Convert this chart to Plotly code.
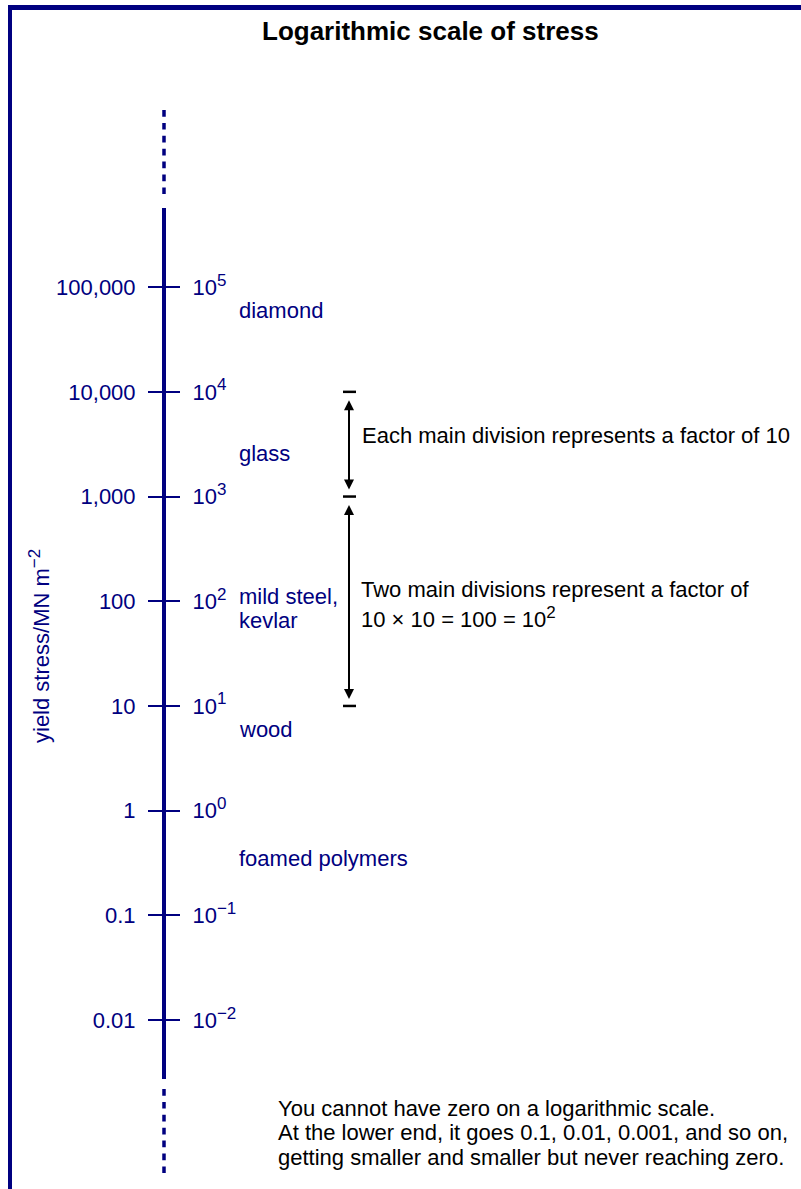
import numpy as np
import plotly.graph_objects as go

W, H = 801, 1189
FONT = "Liberation Sans, Arial, Helvetica, sans-serif"
NAVY = "#000080"

# ---------------- data ----------------
tick_values = [1e5, 1e4, 1e3, 1e2, 1e1, 1e0, 1e-1, 1e-2]
linear_labels = ["100,000", "10,000", "1,000", "100", "10", "1", "0.1", "0.01"]
power_labels = ["10<sup>5</sup>", "10<sup>4</sup>", "10<sup>3</sup>", "10<sup>2</sup>",
                "10<sup>1</sup>", "10<sup>0</sup>", "10<sup>\u22121</sup>", "10<sup>\u22122</sup>"]
materials = ["diamond", "glass", "mild steel,<br>kevlar", "wood", "foamed polymers"]
material_stress = [60000, 2600, 85, 6, 0.35]
bracket_values = [1e4, 1e3, 1e1]
arrow_from = [1e4, 1e3]
arrow_to = [1e3, 1e1]
arrow_texts = [["Each main division represents a factor of 10"],
               ["Two main divisions represent a factor of",
                "10 \u00d7 10 = 100 = 10<sup>2</sup>"]]
note_lines = ["You cannot have zero on a logarithmic scale.",
              "At the lower end, it goes 0.1, 0.01, 0.001, and so on,",
              "getting smaller and smaller but never reaching zero."]
axis_title = "yield stress/MN m<sup>\u22122</sup>"
title = "Logarithmic scale of stress"

# ---------------- layout constants ----------------
AXIS_X = 164
LOG_RANGE = [-2.563, 5.756]
AX_TOP_PX, AX_BOT_PX = 208, 1079


def big_sup(s, size=17):
    return s.replace("<sup>", "<sup><span style='font-size:%dpx'>" % size).replace(
        "</sup>", "</span></sup>")


def py(p):
    return 1 - p / H


fig = go.Figure()

# invisible traces to bind both y axes
fig.add_trace(go.Scatter(x=[AXIS_X], y=[tick_values[0]], mode="markers",
                         marker=dict(opacity=0), hoverinfo="skip", showlegend=False))
fig.add_trace(go.Scatter(x=[AXIS_X], y=[tick_values[0]], mode="markers", yaxis="y2",
                         marker=dict(opacity=0), hoverinfo="skip", showlegend=False))

# bracket bars
bx, by = [], []
for v in bracket_values:
    bx += [343, 356, None]
    by += [v, v, None]
fig.add_trace(go.Scatter(x=bx, y=by, mode="lines", line=dict(color="black", width=2.5),
                         hoverinfo="skip", showlegend=False))

annotations = []
# materials
for name, v in zip(materials, material_stress):
    lines = name.split("<br>")
    n = len(lines)
    for i, ln in enumerate(lines):
        annotations.append(dict(x=237, y=np.log10(v), xref="x", yref="y", text=ln,
                                showarrow=False, xanchor="left", yanchor="middle",
                                yshift=(n - 1) / 2 * 24 - i * 24,
                                font=dict(size=22, color=NAVY, family=FONT)))
# arrows
for a, b in zip(arrow_from, arrow_to):
    annotations.append(dict(x=349, y=np.log10(b), ax=349, ay=np.log10(a),
                            xref="x", yref="y", axref="x", ayref="y", text="",
                            showarrow=True, arrowside="end+start", arrowhead=2,
                            startarrowhead=2, arrowsize=1, startarrowsize=1,
                            arrowwidth=2, arrowcolor="black", standoff=7, startstandoff=7))
# arrow texts
annotations.append(dict(x=360, y=py(435), xref="x", yref="paper", text=arrow_texts[0][0],
                        showarrow=False, xanchor="left", yanchor="middle",
                        font=dict(size=22, color="black", family=FONT)))
for i, t in enumerate(arrow_texts[1]):
    annotations.append(dict(x=359, y=py(589 + 28 * i), xref="x", yref="paper",
                            text=big_sup(t), showarrow=False, xanchor="left",
                            yanchor="middle",
                            font=dict(size=22, color="black", family=FONT)))
# note lines
for i, t in enumerate(note_lines):
    annotations.append(dict(x=276, y=py(1108 + 24.5 * i), xref="x", yref="paper", text=t,
                            showarrow=False, xanchor="left", yanchor="middle",
                            font=dict(size=22, color="black", family=FONT)))
# axis title
annotations.append(dict(x=39, y=py(646), xref="x", yref="paper", text=big_sup(axis_title),
                        showarrow=False, textangle=-90, xanchor="center", yanchor="middle",
                        font=dict(size=22, color=NAVY, family=FONT)))
# title
annotations.append(dict(x=430, y=py(31), xref="x", yref="paper", text="<b>" + title + "</b>",
                        showarrow=False, xanchor="center", yanchor="middle",
                        font=dict(size=26, color="black", family=FONT)))

shapes = [
    dict(type="line", xref="x", yref="paper", x0=10, x1=10, y0=py(5), y1=0,
         line=dict(color=NAVY, width=4)),
    dict(type="line", xref="x", yref="paper", x0=8, x1=W, y0=py(7.5), y1=py(7.5),
         line=dict(color=NAVY, width=5)),
    dict(type="line", xref="x", yref="paper", x0=AXIS_X, x1=AXIS_X, y0=py(110), y1=py(194),
         line=dict(color=NAVY, width=3.5, dash="6.7px,6.2px")),
    dict(type="line", xref="x", yref="paper", x0=AXIS_X, x1=AXIS_X, y0=py(1089), y1=py(1173),
         line=dict(color=NAVY, width=3.5, dash="6.7px,6.2px")),
]

yax_common = dict(type="log", range=LOG_RANGE, domain=[py(AX_BOT_PX), py(AX_TOP_PX)],
                  anchor="free", position=AXIS_X / W, showline=True, linecolor=NAVY,
                  linewidth=4, ticks="outside", ticklen=14, tickwidth=2, tickcolor=NAVY,
                  tickvals=tick_values, showgrid=False, zeroline=False, automargin=False,
                  ticklabelstandoff=8,
                  tickfont=dict(size=22, color=NAVY, family=FONT), fixedrange=True)

fig.update_layout(
    width=W, height=H,
    margin=dict(l=0, r=0, t=0, b=0, pad=0),
    paper_bgcolor="white", plot_bgcolor="white",
    showlegend=False,
    xaxis=dict(range=[0, W], domain=[0, 1], visible=False, fixedrange=True),
    yaxis=dict(ticktext=linear_labels, side="left", **yax_common),
    yaxis2=dict(ticktext=[big_sup(t) for t in power_labels], side="right",
                overlaying="y", **yax_common),
    annotations=annotations,
    shapes=shapes,
    font=dict(family=FONT),
)

fig.write_html("out.html", config=dict(displayModeBar=False),
               post_script="document.body.style.margin='0';document.body.style.padding='0';")
